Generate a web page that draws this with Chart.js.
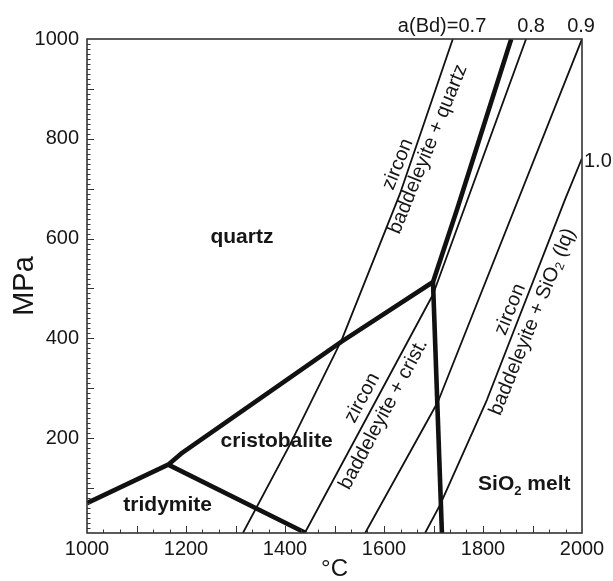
<!DOCTYPE html>
<html>
<head>
<meta charset="utf-8">
<script src="https://cdn.jsdelivr.net/npm/chart.js@4.4.0/dist/chart.umd.min.js"></script>
<style>
html, body { margin: 0; padding: 0; background: #fff; }
</style>
</head>
<body>
<canvas id="myChart" width="613" height="581"></canvas>
<script>
// axis tick labels
var xTickLabels = [1000, 1200, 1400, 1600, 1800, 2000];
var yTickLabels = [200, 400, 600, 800, 1000];

// SiO2 phase boundaries (T in °C, P in MPa) - thick lines
var trdQzT = [1000, 1164];
var trdQzP = [70, 147];
var trdCrsT = [1164, 1442];
var trdCrsP = [147, 10];
var crsQzT = [1164, 1190, 1515, 1699];
var crsQzP = [147, 169, 394, 513];
var qzLiqT = [1699, 1748, 1857];
var qzLiqP = [513, 660, 1000];
var crsLiqT = [1699, 1717];
var crsLiqP = [513, 10];

// zircon = baddeleyite + SiO2 at given a(Bd) - thin lines
var bdLabels = ['a(Bd)=0.7', '0.8', '0.9', '1.0'];
var bd07T = [1315, 1410, 1515, 1632, 1739];
var bd07P = [10, 187, 398, 689, 1000];
var bd08T = [1440, 1699, 1887];
var bd08P = [10, 488, 1000];
var bd09T = [1562, 1709, 2000];
var bd09P = [10, 273, 1000];
var bd10T = [1683, 1713, 1808, 1966, 2000];
var bd10P = [10, 66, 277, 679, 761];

function pts(t, p) {
    return t.map(function (v, i) { return { x: v, y: p[i] }; });
}
function line(t, p, w) {
    return {
        data: pts(t, p),
        showLine: true,
        borderColor: '#111',
        backgroundColor: '#111',
        borderWidth: w,
        pointRadius: 0,
        borderJoinStyle: 'round',
        borderCapStyle: 'butt',
        tension: 0
    };
}

var FONT = '"Liberation Sans", Arial, sans-serif';
var TXT = '#161616';

function drawRich(ctx, runs, px, py, deg, size, bold, align, baseline) {
    var f = function (s) { return (bold ? 'bold ' : '') + s + 'px ' + FONT; };
    var w = 0;
    runs.forEach(function (r) {
        ctx.font = f(r.sub ? size * 0.62 : size);
        r.w = ctx.measureText(r.t).width;
        w += r.w;
    });
    ctx.save();
    ctx.translate(px, py);
    ctx.rotate(deg * Math.PI / 180);
    ctx.textBaseline = baseline;
    ctx.fillStyle = TXT;
    var cx = align === 'left' ? 0 : -w / 2;
    runs.forEach(function (r) {
        ctx.font = f(r.sub ? size * 0.62 : size);
        ctx.fillText(r.t, cx, r.sub ? size * 0.25 : 0);
        cx += r.w;
    });
    ctx.restore();
}

var framePlugin = {
    id: 'frame',
    afterDraw: function (chart) {
        var ctx = chart.ctx, a = chart.chartArea;
        var x = chart.scales.x, y = chart.scales.y;
        ctx.save();
        ctx.strokeStyle = '#333';
        ctx.lineWidth = 1.6;
        ctx.strokeRect(a.left, a.top, a.right - a.left, a.bottom - a.top);
        // inward ticks
        ctx.lineWidth = 1;
        ctx.beginPath();
        for (var i = 1; i < 30; i++) {
            var xv = 1000 + i * 100 / 3;
            var px = Math.round(x.getPixelForValue(xv)) + 0.5;
            var len = (i % 3 === 0) ? 7 : 3.5;
            ctx.moveTo(px, a.bottom);
            ctx.lineTo(px, a.bottom - len);
        }
        for (var v = 20; v < 1000; v += 10) {
            var py = Math.round(y.getPixelForValue(v)) + 0.5;
            var l2 = (v % 100 === 0) ? 7 : 3.5;
            ctx.moveTo(a.left, py);
            ctx.lineTo(a.left + l2, py);
        }
        ctx.stroke();

        var X = function (t) { return x.getPixelForValue(t); };
        var Y = function (p) { return y.getPixelForValue(p); };

        // field names
        drawRich(ctx, [{ t: 'quartz' }], X(1313), Y(592), 0, 21, true, 'center', 'alphabetic');
        drawRich(ctx, [{ t: 'cristobalite' }], X(1383), Y(183), 0, 21, true, 'center', 'alphabetic');
        drawRich(ctx, [{ t: 'tridymite' }], X(1163), Y(54), 0, 21, true, 'center', 'alphabetic');
        drawRich(ctx, [{ t: 'SiO' }, { t: '2', sub: true }, { t: ' melt' }], X(1790), Y(96), 0, 21, true, 'left', 'alphabetic');

        // reaction labels
        drawRich(ctx, [{ t: 'zircon' }], X(1628), Y(749), -68, 20, false, 'center', 'middle');
        drawRich(ctx, [{ t: 'baddeleyite + quartz' }], X(1689), Y(779), -68, 20, false, 'center', 'middle');
        drawRich(ctx, [{ t: 'zircon' }], X(1556), Y(281), -62, 20, false, 'center', 'middle');
        drawRich(ctx, [{ t: 'baddeleyite + crist.' }], X(1599), Y(248), -62, 20, false, 'center', 'middle');
        drawRich(ctx, [{ t: 'zircon' }], X(1855), Y(458), -68, 20, false, 'center', 'middle');
        drawRich(ctx, [{ t: 'baddeleyite + SiO' }, { t: '2', sub: true }, { t: ' (lq)' }], X(1900), Y(433), -68, 20, false, 'center', 'middle');

        // a(Bd) labels
        drawRich(ctx, [{ t: bdLabels[0] }], X(1628), Y(1014), 0, 20, false, 'left', 'alphabetic');
        drawRich(ctx, [{ t: bdLabels[1] }], X(1869), Y(1014), 0, 20, false, 'left', 'alphabetic');
        drawRich(ctx, [{ t: bdLabels[2] }], X(1970), Y(1014), 0, 20, false, 'left', 'alphabetic');
        drawRich(ctx, [{ t: bdLabels[3] }], X(2004), Y(743), 0, 20, false, 'left', 'alphabetic');
        ctx.restore();
    }
};

var ctx = document.getElementById('myChart');
var chart = new Chart(ctx, {
    type: 'scatter',
    data: {
        datasets: [
            line(bd07T, bd07P, 1.8),
            line(bd08T, bd08P, 1.8),
            line(bd09T, bd09P, 1.8),
            line(bd10T, bd10P, 1.8),
            line(trdQzT, trdQzP, 4.6),
            line(trdCrsT, trdCrsP, 4.6),
            line(crsQzT, crsQzP, 4.6),
            line(qzLiqT, qzLiqP, 4.6),
            line(crsLiqT, crsLiqP, 4.6)
        ]
    },
    options: {
        responsive: false,
        animation: false,
        devicePixelRatio: 1,
        layout: { padding: { top: 39, right: 31, left: 0, bottom: 0 } },
        plugins: { legend: { display: false }, tooltip: { enabled: false } },
        scales: {
            x: {
                type: 'linear',
                min: 1000,
                max: 2000,
                afterBuildTicks: function (s) { s.ticks = xTickLabels.map(function (v) { return { value: v }; }); },
                afterFit: function (s) { s.height = 48; },
                grid: { display: false, drawTicks: false },
                border: { display: false },
                ticks: {
                    color: TXT, font: { family: FONT, size: 20 }, padding: 4, maxRotation: 0, autoSkip: false,
                    callback: function (v) { return String(v); }
                },
                title: { display: true, text: '°C', color: TXT, font: { family: FONT, size: 24, lineHeight: 1 }, padding: 0 }
            },
            y: {
                type: 'linear',
                min: 10,
                max: 1000,
                afterBuildTicks: function (s) { s.ticks = yTickLabels.map(function (v) { return { value: v }; }); },
                afterFit: function (s) { s.width = 87; },
                grid: { display: false, drawTicks: false },
                border: { display: false },
                ticks: {
                    color: TXT, font: { family: FONT, size: 20 }, padding: 8, autoSkip: false,
                    callback: function (v) { return String(v); }
                },
                title: { display: true, text: 'MPa', color: TXT, font: { family: FONT, size: 29, lineHeight: 1 }, padding: { top: 10, bottom: 0 } }
            }
        }
    },
    plugins: [framePlugin]
});
</script>
</body>
</html>
